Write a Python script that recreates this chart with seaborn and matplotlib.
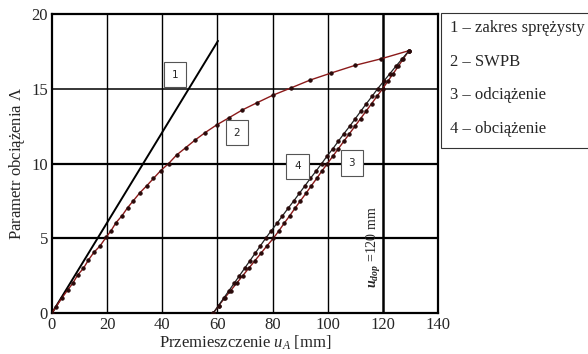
import matplotlib
matplotlib.use("Agg")
import matplotlib.pyplot as plt
from matplotlib.patches import Rectangle
import seaborn as sns

# curve 1 - elastic range
elastic_x = [0, 60.2]
elastic_y = [0, 18.2]

# curve 2 - SWPB
swpb_x = [0, 1.45, 3.5, 5.7, 7.5, 9.3, 11.4, 13.2, 15.2, 17.4, 19.6, 21.4, 23.2, 25.4,
          27.4, 29.5, 31.9, 34.3, 36.8, 39.4, 42.3, 45.2, 48.5, 51.9, 55.5, 59.7, 64.2,
          69.0, 74.2, 80.0, 86.6, 93.6, 101.2, 110.0, 119.3, 129.5]
swpb_y = [0, 0.42, 0.98, 1.54, 1.98, 2.54, 2.99, 3.54, 4.06, 4.48, 5.06, 5.5, 6.04, 6.51,
          7.04, 7.51, 8.05, 8.5, 9.0, 9.52, 10.0, 10.57, 11.06, 11.57, 12.06, 12.58, 13.06,
          13.58, 14.05, 14.56, 15.05, 15.58, 16.05, 16.57, 17.0, 17.55]

# curve 3 - unloading
unload_x = [58.5, 60.5, 62.6, 64.8, 67.0, 69.2, 71.4, 73.6, 75.8, 78.0, 80.3, 82.3, 84.2,
            86.2, 88.1, 90.1, 92.1, 94.0, 96.0, 97.9, 99.9, 101.9, 103.9, 105.9, 107.9,
            109.9, 111.9, 113.9, 115.9, 117.9, 119.9, 121.8, 123.7, 125.6, 127.4, 129.5]
unload_y = [0, 0.5, 1.0, 1.5, 2.0, 2.5, 3.0, 3.5, 4.0, 4.5, 5.0, 5.5, 6.0, 6.5, 7.0, 7.5,
            8.0, 8.5, 9.0, 9.5, 10.0, 10.5, 11.0, 11.5, 12.0, 12.5, 13.0, 13.5, 14.0, 14.5,
            15.0, 15.5, 16.0, 16.5, 17.0, 17.55]

# curve 4 - reloading
reload_x = [58.5, 60.4, 62.3, 64.2, 66.1, 68.0, 69.9, 71.8, 73.7, 75.6, 77.5, 79.5, 81.6,
            83.6, 85.6, 87.7, 89.7, 91.7, 93.7, 95.8, 97.8, 99.8, 101.9, 103.9, 105.9,
            108.0, 110.0, 112.0, 114.0, 116.1, 118.1, 120.3, 122.5, 124.7, 127.0, 129.5]
reload_y = unload_y

x_ticks = [0, 20, 40, 60, 80, 100, 120, 140]
y_ticks = [0, 5, 10, 15, 20]

legend_labels = ["1 – zakres sprężysty", "2 – SWPB", "3 – odciążenie", "4 – obciążenie"]

RED = "#8b1a1a"

sns.set_style("white")
plt.rcParams['font.family'] = ['Liberation Serif', 'DejaVu Serif']
plt.rcParams['mathtext.fontset'] = 'custom'
plt.rcParams['mathtext.rm'] = 'Liberation Serif'
plt.rcParams['mathtext.it'] = 'Liberation Serif:italic'
plt.rcParams['mathtext.bf'] = 'Liberation Serif:bold:italic'

fig = plt.figure(figsize=(5.88, 3.54), dpi=100)
ax = fig.add_axes([52 / 588, 1 - 313 / 354, 386 / 588, 299 / 354])

# grid
for gx in [20, 40, 60, 80, 100]:
    ax.axvline(gx, color="black", lw=1.0, zorder=1)
ax.axvline(120, color="black", lw=1.8, zorder=1)
for gy in [5, 10]:
    ax.axhline(gy, color="black", lw=1.6, zorder=1)
ax.axhline(15, color="black", lw=1.1, zorder=1)

sns.lineplot(x=elastic_x, y=elastic_y, ax=ax, color="black", lw=1.4, sort=False, zorder=3)
dot = dict(marker="o", markersize=2.4, markerfacecolor="#2a0a0a", markeredgecolor="#2a0a0a")
sns.lineplot(x=swpb_x, y=swpb_y, ax=ax, color=RED, lw=1.0, sort=False, zorder=3, **dot)
sns.lineplot(x=unload_x, y=unload_y, ax=ax, color=RED, lw=1.0, sort=False, zorder=3, **dot)
sns.lineplot(x=reload_x, y=reload_y, ax=ax, color="#222222", lw=0.9, sort=False, zorder=3, **dot)

ax.set_xlim(0, 140)
ax.set_ylim(0, 20)
ax.set_xticks(x_ticks)
ax.set_yticks(y_ticks)
ax.tick_params(labelsize=12, length=0, pad=3)
for s in ax.spines.values():
    s.set_color("black")
    s.set_linewidth(1.6)

ax.set_xlabel("Przemieszczenie $\\mathit{u_A}$ [mm]", fontsize=12, labelpad=0)
ax.set_ylabel("Parametr obciążenia $\\mathit{\\Lambda}$", fontsize=12, labelpad=3)

for lbl, bx, by in [("1", 44.6, 15.95), ("2", 67.0, 12.07), ("4", 89.0, 9.81), ("3", 108.7, 10.03)]:
    ax.text(bx, by, lbl, fontsize=7.5, family="DejaVu Sans", ha="center", va="center",
            bbox=dict(boxstyle="square,pad=0.75", fc="white", ec="#555555", lw=0.8), zorder=5)

ax.text(116.8, 4.4, "$\\mathbf{u_{dop}}$ =120 mm", rotation=90, fontsize=10,
        ha="center", va="center", zorder=2)

# legend box
fig.patches.append(Rectangle((441 / 588, 1 - 148 / 354), 0.3, 135 / 354,
                             transform=fig.transFigure, fc="white", ec="#333333", lw=0.8))
for i, t in enumerate(legend_labels):
    fig.text(450 / 588, 1 - (28 + 33.5 * i) / 354, t, fontsize=12, va="center", ha="left")

fig.savefig("out.png", dpi=100)
